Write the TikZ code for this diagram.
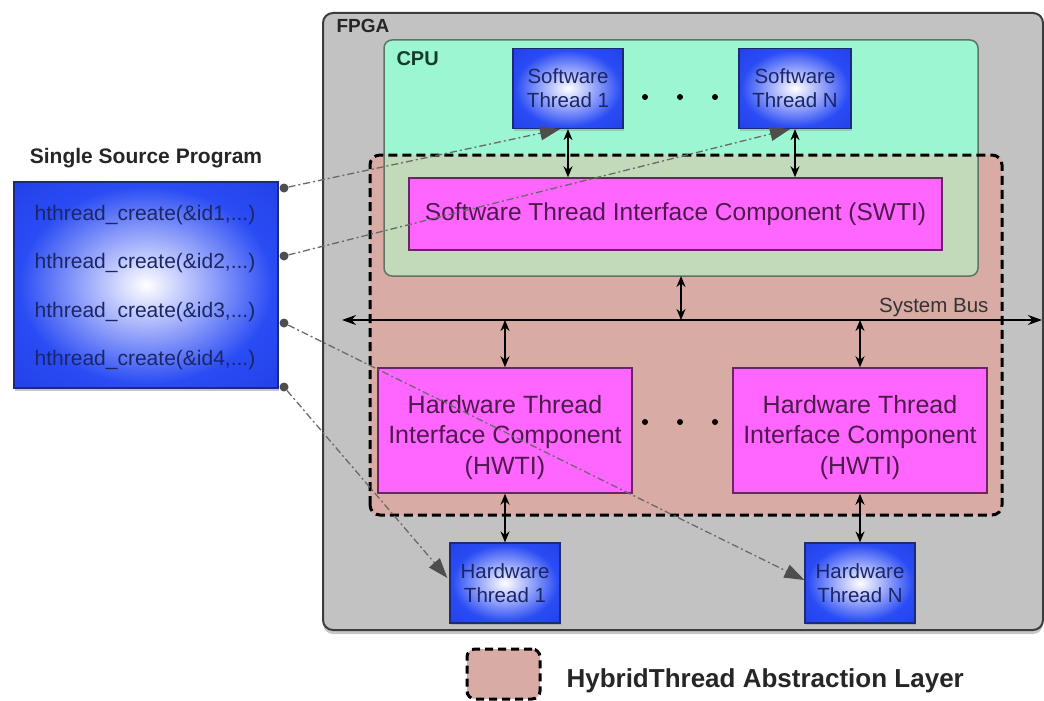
\documentclass[tikz,border=0pt]{standalone}
\usepackage{fontspec}
\setmainfont{Liberation Sans}
\usetikzlibrary{arrows.meta,shadows,calc}

\definecolor{fpgagray}{HTML}{C2C2C2}
\definecolor{fpgaborder}{HTML}{3C3C3C}
\definecolor{cpumint}{HTML}{9DF6D2}
\definecolor{cpuborder}{HTML}{5E7466}
\definecolor{cputext}{HTML}{143C2A}
\definecolor{halfill}{HTML}{D8ACA4}
\definecolor{overlapc}{HTML}{C2D9BA}
\definecolor{magfill}{HTML}{FF66FF}
\definecolor{magborder}{HTML}{6B2466}
\definecolor{magtext}{HTML}{4E1A4C}
\definecolor{bblue}{HTML}{2A4CF4}
\definecolor{bdark}{HTML}{1A32DA}
\definecolor{bmid}{HTML}{A8B4FB}
\definecolor{bborder}{HTML}{1C2A78}
\definecolor{btext}{HTML}{1A2666}
\definecolor{conn}{HTML}{6A6A6A}
\definecolor{conntip}{HTML}{4E4E4E}

\pgfdeclareradialshading{glow}{\pgfpoint{0bp}{0bp}}{color(0bp)=(white); color(10bp)=(bmid); color(24bp)=(bblue); color(50bp)=(bdark)}

\tikzset{
  fpgabox/.style={draw=fpgaborder, fill=fpgagray, line width=2pt, rounded corners=10pt,
    minimum width=720pt, minimum height=617pt, inner sep=0pt,
    drop shadow={shadow xshift=0pt, shadow yshift=-4pt, opacity=0.45}},
  fillbox/.style={inner sep=0pt, outer sep=0pt, rounded corners=8pt},
  threadbox/.style={draw=bborder, line width=1.2pt, shading=glow, minimum width=110pt,
    minimum height=80pt, inner sep=0pt, text=btext, align=center,
    font=\fontsize{20.5}{24}\selectfont,
    drop shadow={shadow xshift=1pt, shadow yshift=-2pt, opacity=0.35}},
  magbox/.style={draw=magborder, line width=1.5pt, fill=magfill, text=magtext,
    align=center, inner sep=0pt},
  hwtitext/.style={font=\fontsize{25}{30.5}\selectfont, text=magtext, align=center, yshift=-7pt},
  progtext/.style={text=btext, font=\fontsize{21}{24}\selectfont, inner sep=0pt},
  dbl/.style={{Stealth[length=11pt,width=9pt]}-{Stealth[length=11pt,width=9pt]}, line width=1.6pt},
  busline/.style={{Stealth[length=14pt,width=10pt]}-{Stealth[length=14pt,width=10pt]}, line width=1.4pt},
  connector/.style={draw=conn, line width=1.3pt, dash pattern=on 7pt off 3pt on 2pt off 3pt,
    -{Triangle[length=20pt,width=14pt,color=conntip]}},
  portdot/.style={circle, fill=conntip, inner sep=0pt, minimum size=9pt},
  edot/.style={circle, fill=black, inner sep=0pt, minimum size=6pt},
}

\begin{document}
\begin{tikzpicture}[x=1pt, y=-1pt]
\useasboundingbox (0,0) rectangle (1044,701);

% FPGA container
\node[fpgabox] (fpga) at (683,321.5) {};
\node[anchor=base west, font=\bfseries\fontsize{19}{22}\selectfont, text=black!85] (fpgalabel) at (333,33) {FPGA};

% CPU and abstraction layer fills
\node[fillbox, fill=cpumint, minimum width=594pt, minimum height=236pt] (cpu) at (681,158) {};
\node[fillbox, fill=halfill, minimum width=632pt, minimum height=360pt] (hal) at (686,335) {};
\begin{scope}
  \clip (hal.south west) rectangle (hal.north east);
  \fill[overlapc, rounded corners=8pt] (cpu.south west) rectangle (cpu.north east);
\end{scope}
\draw[cpuborder, line width=1.5pt, rounded corners=8pt] (cpu.south west) rectangle (cpu.north east);
\draw[black, line width=3pt, dash pattern=on 9pt off 5pt, rounded corners=10pt] (hal.south west) rectangle (hal.north east);
\node[anchor=base west, font=\bfseries\fontsize{20}{24}\selectfont, text=cputext] (cpulabel) at (393,66) {CPU};

% software threads
\node[threadbox, minimum width=110pt] (sw1) at (568,88.5) {Software\\Thread 1};
\node[threadbox, minimum width=112pt] (swN) at (795,88.5) {Software\\Thread N};
\node[edot] (sd1) at (645,97) {};
\node[edot] (sd2) at (680,97) {};
\node[edot] (sd3) at (715,97) {};

% SWTI
\node[magbox, minimum width=533pt, minimum height=72pt, font=\fontsize{24.5}{28}\selectfont] (swti) at (675.5,214) {Software Thread Interface Component (SWTI)};

% HWTIs
\node[magbox, minimum width=254pt, minimum height=125pt,
  label={[name=hwti1text, hwtitext]center:{Hardware Thread\\Interface Component\\(HWTI)}}] (hwti1) at (505,430.5) {};
\node[magbox, minimum width=254pt, minimum height=125pt,
  label={[name=hwtiNtext, hwtitext]center:{Hardware Thread\\Interface Component\\(HWTI)}}] (hwtiN) at (860,430.5) {};
\node[edot] (hd1) at (645,422) {};
\node[edot] (hd2) at (680,422) {};
\node[edot] (hd3) at (715,422) {};

% hardware threads
\node[threadbox] (hw1) at (505,583) {Hardware\\Thread 1};
\node[threadbox] (hwN) at (860,583) {Hardware\\Thread N};

% system bus
\coordinate (busL) at (342,320);
\coordinate (busR) at (1042,320);
\draw[busline] (busL) -- (busR);
\node[anchor=base east, font=\fontsize{20.5}{24}\selectfont, text=black!80] (buslabel) at (992,312) {System Bus};

% vertical double arrows
\draw[dbl] (sw1.south) -- (sw1.south |- swti.north);
\draw[dbl] (swN.south) -- (swN.south |- swti.north);
\draw[dbl] (cpu.south) -- (cpu.south |- busL);
\draw[dbl] (hwti1.north |- busL) -- (hwti1.north);
\draw[dbl] (hwtiN.north |- busL) -- (hwtiN.north);
\draw[dbl] (hwti1.south) -- (hw1.north);
\draw[dbl] (hwtiN.south) -- (hwN.north);

% single source program
\node[font=\bfseries\fontsize{21}{24}\selectfont, text=black!85] (progtitle) at (146,158) {Single Source Program};
\node[draw=bborder, line width=1.2pt, shading=glow, minimum width=264pt, minimum height=206pt,
  inner sep=0pt, drop shadow={shadow xshift=1pt, shadow yshift=-3pt, opacity=0.45}] (prog) at (146,285) {};
\node[progtext] (l1) at (145,215) {hthread\_create(\&id1,...)};
\node[progtext] (l2) at (145,263) {hthread\_create(\&id2,...)};
\node[progtext] (l3) at (145,312) {hthread\_create(\&id3,...)};
\node[progtext] (l4) at (145,360) {hthread\_create(\&id4,...)};

\node[portdot] (p1) at (284,188) {};
\node[portdot] (p2) at (284,256) {};
\node[portdot] (p3) at (284,323) {};
\node[portdot] (p4) at (284,387) {};

% connector targets
\coordinate (e1) at ($(sw1.south)+(-8,0)$);
\coordinate (e2) at ($(swN.south)+(-5,0)$);
\coordinate (e3) at ($(hwN.west)+(0,-3)$);
\coordinate (e4) at ($(hw1.west)+(-2,-5)$);

\draw[connector] (p1) -- (e1);
\draw[connector] (p2) -- (e2);
\draw[connector] (p3) -- (e3);
\draw[connector] (p4) -- (e4);

% legend
\node[fill=halfill, draw=black, line width=3pt, dash pattern=on 8pt off 5pt, rounded corners=8pt,
  minimum width=73pt, minimum height=50pt, inner sep=0pt] (legbox) at (503.5,674) {};
\node[anchor=base west, font=\bfseries\fontsize{26}{30}\selectfont, text=black!85] (legtext) at (563,687) {HybridThread Abstraction Layer};
\end{tikzpicture}
\end{document}
